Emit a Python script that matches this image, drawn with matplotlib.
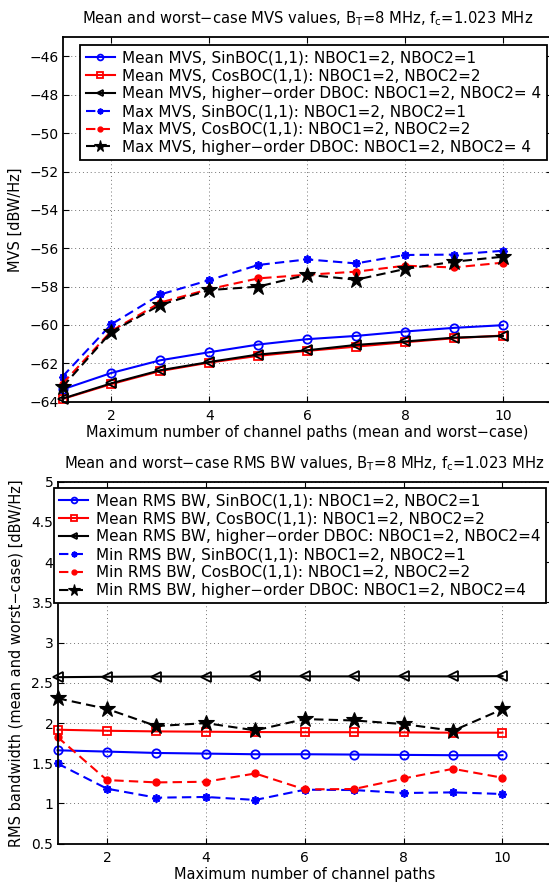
import matplotlib
matplotlib.use("Agg")
import matplotlib.pyplot as plt

plt.rcParams['font.family'] = ['DejaVu Sans']
plt.rcParams['mathtext.fontset'] = 'dejavusans'

paths = [1, 2, 3, 4, 5, 6, 7, 8, 9, 10]

# Top panel: MVS [dBW/Hz]
mvs_mean_sin = [-63.36, -62.50, -61.84, -61.42, -61.02, -60.74, -60.57, -60.34, -60.15, -60.01]
mvs_mean_cos = [-63.86, -63.08, -62.40, -61.96, -61.61, -61.35, -61.13, -60.90, -60.69, -60.55]
mvs_mean_dboc = [-63.84, -63.04, -62.36, -61.93, -61.54, -61.32, -61.04, -60.86, -60.66, -60.57]
mvs_max_sin = [-62.69, -59.96, -58.41, -57.66, -56.87, -56.58, -56.79, -56.35, -56.33, -56.13]
mvs_max_cos = [-63.06, -60.31, -58.83, -58.13, -57.57, -57.38, -57.22, -56.91, -57.00, -56.75]
mvs_max_dboc = [-63.23, -60.36, -58.95, -58.18, -58.00, -57.38, -57.64, -57.08, -56.70, -56.44]

# Bottom panel: RMS bandwidth
rms_mean_sin = [1.661, 1.645, 1.628, 1.620, 1.612, 1.612, 1.608, 1.604, 1.600, 1.600]
rms_mean_cos = [1.917, 1.904, 1.896, 1.892, 1.888, 1.886, 1.886, 1.884, 1.880, 1.880]
rms_mean_dboc = [2.570, 2.575, 2.578, 2.578, 2.580, 2.580, 2.580, 2.580, 2.580, 2.583]
rms_min_sin = [1.497, 1.184, 1.072, 1.081, 1.044, 1.171, 1.167, 1.130, 1.138, 1.118]
rms_min_cos = [1.826, 1.291, 1.262, 1.270, 1.373, 1.175, 1.180, 1.311, 1.431, 1.320]
rms_min_dboc = [2.308, 2.176, 1.962, 1.999, 1.909, 2.049, 2.032, 1.987, 1.904, 2.172]

top_labels = [
    "Mean MVS, SinBOC(1,1): NBOC1=2, NBOC2=1",
    "Mean MVS, CosBOC(1,1): NBOC1=2, NBOC2=2",
    "Mean MVS, higher\u2212order DBOC: NBOC1=2, NBOC2= 4",
    "Max MVS, SinBOC(1,1): NBOC1=2, NBOC2=1",
    "Max MVS, CosBOC(1,1): NBOC1=2, NBOC2=2",
    "Max MVS, higher\u2212order DBOC: NBOC1=2, NBOC2= 4",
]
bot_labels = [
    "Mean RMS BW, SinBOC(1,1): NBOC1=2, NBOC2=1",
    "Mean RMS BW, CosBOC(1,1): NBOC1=2, NBOC2=2",
    "Mean RMS BW, higher\u2212order DBOC: NBOC1=2, NBOC2=4",
    "Min RMS BW, SinBOC(1,1): NBOC1=2, NBOC2=1",
    "Min RMS BW, CosBOC(1,1): NBOC1=2, NBOC2=2",
    "Min RMS BW, higher\u2212order DBOC: NBOC1=2, NBOC2=4",
]

styles = [
    dict(color='blue', ls='-', marker='o', mfc='none', ms=6, mew=1.3),
    dict(color='red', ls='-', marker='s', mfc='none', ms=5.5, mew=1.3),
    dict(color='black', ls='-', marker='<', mfc='none', ms=6.5, mew=1.3),
    dict(color='blue', ls=(0, (4.5, 2.5)), marker=(8, 2, 0), ms=6, mew=1.3),
    dict(color='red', ls=(0, (4.5, 2.5)), marker='o', mfc='red', ms=5, mew=1),
    dict(color='black', ls=(0, (4.5, 2.5)), marker='*', mfc='black', ms=12, mew=0.8),
]

W, H = 549, 884
fig = plt.figure(figsize=(W / 100, H / 100), dpi=100)


def px_axes(left, right, top, bottom):
    return fig.add_axes([left / W, 1 - bottom / H, (right - left) / W, (bottom - top) / H])


def style_axes(ax):
    ax.set_xlim(1, 11)
    ax.set_xticks([2, 4, 6, 8, 10])
    ax.tick_params(direction='in', top=True, right=True, labelsize=10, length=4,
                   width=0.8, pad=3)
    ax.tick_params(axis='x', pad=5)
    ax.grid(True, linestyle=(0, (1, 3)), color='0.45', lw=0.7)
    for s in ax.spines.values():
        s.set_linewidth(1.3)


LEG = dict(loc='upper right', fontsize=11, handlelength=1.9, handletextpad=0.5,
           borderpad=0.35, labelspacing=0.19, fancybox=False, framealpha=1,
           edgecolor='black', markerscale=0.7, borderaxespad=0)

# Top axes
ax1 = px_axes(62.5, 551.8, 37.3, 401.7)
series_top = [mvs_mean_sin, mvs_mean_cos, mvs_mean_dboc, mvs_max_sin, mvs_max_cos, mvs_max_dboc]
for vals, lab, st in zip(series_top, top_labels, styles):
    ax1.plot(paths, vals, lw=1.5, label=lab, clip_on=False, **st)
style_axes(ax1)
ax1.set_ylim(-64, -45)
ax1.set_yticks(range(-64, -45, 2))
ax1.set_title("Mean and worst\u2212case MVS values, B$_\\mathrm{T}$=8 MHz, f$_\\mathrm{c}$=1.023 MHz",
              fontsize=10.6, pad=10)
ax1.set_xlabel("Maximum number of channel paths (mean and worst\u2212case)", fontsize=10.5, labelpad=2)
ax1.set_ylabel("MVS [dBW/Hz]", fontsize=10.5)
ax1.yaxis.set_label_coords(-0.082, 0.5)
leg1 = ax1.legend(bbox_to_anchor=(0.990, 0.979), **LEG)
leg1.get_frame().set_linewidth(1.3)

# Bottom axes
ax2 = px_axes(57.5, 551.9, 481.7, 843.7)
series_bot = [rms_mean_sin, rms_mean_cos, rms_mean_dboc, rms_min_sin, rms_min_cos, rms_min_dboc]
for vals, lab, st in zip(series_bot, bot_labels, styles):
    ax2.plot(paths, vals, lw=1.5, label=lab, clip_on=False, **st)
style_axes(ax2)
ax2.set_ylim(0.5, 5)
ax2.set_yticks([0.5, 1, 1.5, 2, 2.5, 3, 3.5, 4, 4.5, 5])
ax2.set_yticklabels(['0.5', '1', '1.5', '2', '2.5', '3', '3.5', '4', '4.5', '5'])
ax2.set_title("Mean and worst\u2212case RMS BW values, B$_\\mathrm{T}$=8 MHz, f$_\\mathrm{c}$=1.023 MHz",
              fontsize=10.6, pad=10)
ax2.set_xlabel("Maximum number of channel paths", fontsize=10.5, labelpad=2)
ax2.set_ylabel("RMS bandwidth (mean and worst\u2212case) [dBW/Hz]", fontsize=10.5)
ax2.yaxis.set_label_coords(-0.068, 0.5)
leg2 = ax2.legend(bbox_to_anchor=(0.988, 0.9826), **LEG)
leg2.get_frame().set_linewidth(1.3)

fig.savefig("out.png", dpi=100)
